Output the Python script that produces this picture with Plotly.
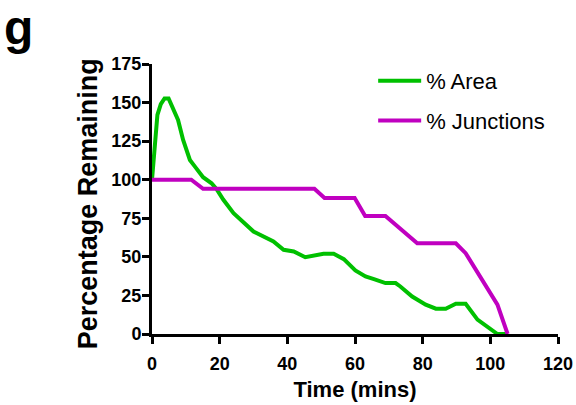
import plotly.graph_objects as go

# % Area (green)
area_t = [0, 0.8, 1.6, 2.6, 3.7, 4.9, 5.5, 6.5, 7.7, 9.2, 11.2, 12.7, 15.1, 17.6, 19.1,
          21.1, 24.1, 30.0, 35.9, 38.9, 41.9, 45.3, 50.7, 53.7, 56.7, 60.1, 63.1, 65.6,
          69.0, 72.0, 73.4, 76.9, 80.9, 83.9, 86.8, 89.8, 92.7, 96.2, 99.2, 102.1, 105.0]
area_v = [100, 125.8, 142, 149, 152.7, 152.7, 149.5, 145, 138.7, 125.8, 112.8, 108.5, 101.6, 97.7, 93.9,
          87, 78.3, 66.4, 60, 54.6, 53.5, 49.8, 52, 52, 48.5, 41.2, 37.3, 35.6,
          33, 33, 30.8, 24.3, 19, 16.4, 16.4, 19.6, 19.6, 9.3, 4.9, 0, 0]

# % Junctions (magenta)
junc_t = [0, 11.6, 15.1, 48.0, 51.0, 59.9, 63.0, 69.0, 78.4, 89.8, 92.7, 102.1, 105.1]
junc_v = [100, 100, 94.1, 94.1, 88.2, 88.2, 76.5, 76.5, 58.8, 58.8, 52.4, 19, 0]

x_ticks = [0, 20, 40, 60, 80, 100, 120]
y_ticks = [0, 25, 50, 75, 100, 125, 150, 175]

GREEN = "#00C000"
MAGENTA = "#C000C0"
FONT = "Liberation Sans, Arial, sans-serif"

fig = go.Figure()
fig.add_trace(go.Scatter(x=area_t, y=area_v, mode="lines", name="% Area",
                         line=dict(color=GREEN, width=4), legendgroup="a"))
fig.add_trace(go.Scatter(x=junc_t, y=junc_v, mode="lines", name="% Junctions",
                         line=dict(color=MAGENTA, width=4), legendgroup="b"))

axis_common = dict(showgrid=False, zeroline=False, showline=True, linecolor="black",
                   linewidth=3, ticks="outside", tickwidth=3, ticklen=7, tickcolor="black",
                   automargin=False,
                   tickfont=dict(family=FONT, size=18, color="black", weight="bold"))

fig.update_xaxes(range=[0, 120], tickvals=x_ticks, ticktext=[str(v) for v in x_ticks],
                 ticklabelstandoff=4,
                 title=dict(text="<b>Time (mins)</b>", font=dict(family=FONT, size=22, color="black"),
                            standoff=10),
                 **axis_common)
fig.update_yaxes(range=[0, 175], tickvals=y_ticks, ticktext=[str(v) for v in y_ticks],
                 ticklabelstandoff=-3,
                 **axis_common)

PW = 405.7
PH = 270.3
# y-axis title placed as a rotated annotation so its centre matches the reference
fig.add_annotation(text="<b>Percentage Remaining</b>", xref="paper", yref="paper",
                   x=(88 - 152) / PW, y=(334.3 - 203.5) / PH, xanchor="center", yanchor="middle",
                   textangle=-90, showarrow=False, borderpad=0,
                   font=dict(family=FONT, size=27, color="black"))
fig.add_annotation(text="<b>g</b>", xref="paper", yref="paper", x=(3 - 152) / PW, y=1 + 64 / PH,
                   xanchor="left", yanchor="top", showarrow=False, borderpad=0,
                   font=dict(family=FONT, size=48, color="black"))

fig.update_layout(
    width=576, height=405,
    margin=dict(l=152, r=18, t=64, b=71, pad=0),
    paper_bgcolor="white", plot_bgcolor="white",
    showlegend=True,
    legend=dict(x=(373 - 152) / PW, y=1.0 + 4 / PH, xanchor="left", yanchor="top",
                font=dict(family=FONT, size=22, color="black"),
                itemwidth=43, tracegroupgap=8, traceorder="grouped",
                bgcolor="rgba(0,0,0,0)"),
)

# remove the page's default body margin so the figure sits at the window corner
fig.write_html("out.html", config={"displayModeBar": False},
               post_script="document.body.style.margin='0';")
